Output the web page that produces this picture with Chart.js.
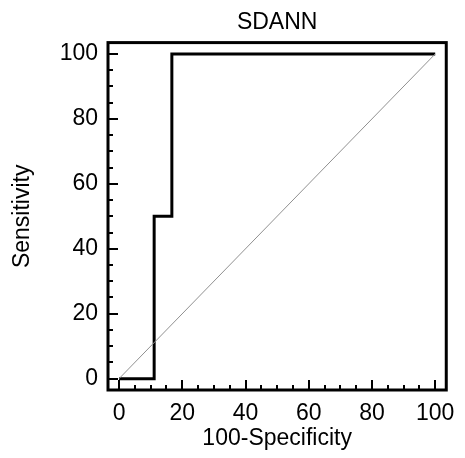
<!DOCTYPE html>
<html>
<head>
<meta charset="utf-8">
<script src="https://cdn.jsdelivr.net/npm/chart.js@4"></script>
<style>
  html, body { margin: 0; padding: 0; background: #fff; }
  #wrap { width: 465px; height: 458px; }
</style>
</head>
<body>
<div id="wrap"><canvas id="rocChart"></canvas></div>
<script>
// ROC curve points (100-Specificity, Sensitivity)
const rocX = [0, 11.1, 11.1, 16.7, 16.7, 100];
const rocY = [0, 0, 50, 50, 100, 100];
// reference diagonal
const diagX = [0, 100];
const diagY = [0, 100];
const tickValues = [0, 20, 40, 60, 80, 100];

const FONT = "'Liberation Sans', Arial, sans-serif";

// box around the plot with inward ticks
const framePlugin = {
  id: 'frame',
  afterDatasetsDraw(chart) {
    const ctx = chart.ctx;
    const a = chart.chartArea;
    const xs = chart.scales.x, ys = chart.scales.y;
    ctx.save();
    ctx.strokeStyle = '#000';
    ctx.lineWidth = 2;
    for (let v = 0; v <= 100; v += 5) {
      const len = v % 20 === 0 ? 10 : 5;
      const px = Math.round(xs.getPixelForValue(v));
      ctx.beginPath();
      ctx.moveTo(px, a.bottom);
      ctx.lineTo(px, a.bottom - len);
      ctx.stroke();
      const py = Math.round(ys.getPixelForValue(v));
      ctx.beginPath();
      ctx.moveTo(a.left, py);
      ctx.lineTo(a.left + len, py);
      ctx.stroke();
    }
    ctx.lineWidth = 3;
    ctx.strokeRect(a.left, a.top, a.right - a.left, a.bottom - a.top);
    ctx.restore();
  }
};

const ctx = document.getElementById('rocChart').getContext('2d');
new Chart(ctx, {
  type: 'scatter',
  data: {
    datasets: [
      {
        label: 'Diagonal',
        data: diagX.map((x, i) => ({ x: x, y: diagY[i] })),
        showLine: true,
        borderColor: '#909090',
        borderWidth: 1,
        pointRadius: 0
      },
      {
        label: 'SDANN',
        data: rocX.map((x, i) => ({ x: x, y: rocY[i] })),
        showLine: true,
        borderColor: '#000',
        borderWidth: 3,
        pointRadius: 0,
        borderJoinStyle: 'miter'
      }
    ]
  },
  plugins: [framePlugin],
  options: {
    responsive: true,
    maintainAspectRatio: false,
    animation: false,
    layout: { padding: { top: 0, right: 10, bottom: 0, left: 0 } },
    plugins: {
      legend: { display: false },
      tooltip: { enabled: false },
      title: {
        display: true,
        fullSize: false,
        text: 'SDANN',
        color: '#000',
        font: { family: FONT, size: 23, weight: 'normal' },
        padding: { top: 9, bottom: 6 }
      }
    },
    scales: {
      x: {
        type: 'linear',
        min: -3.5,
        max: 103.5,
        afterBuildTicks: (s) => { s.ticks = tickValues.map(v => ({ value: v })); },
        afterFit: (s) => { s.height = 68; },
        grid: { display: false, drawTicks: false },
        border: { display: false },
        ticks: {
          color: '#000',
          padding: 10,
          font: { family: FONT, size: 23 }
        },
        title: {
          display: true,
          text: '100-Specificity',
          color: '#000',
          font: { family: FONT, size: 23 },
          padding: { top: 0, bottom: 6 }
        }
      },
      y: {
        type: 'linear',
        min: -3.5,
        max: 103.5,
        afterBuildTicks: (s) => { s.ticks = tickValues.map(v => ({ value: v })); },
        afterFit: (s) => { s.width = 108; },
        grid: { display: false, drawTicks: false },
        border: { display: false },
        ticks: {
          color: '#000',
          padding: 10,
          font: { family: FONT, size: 23 }
        },
        title: {
          display: true,
          text: 'Sensitivity',
          color: '#000',
          font: { family: FONT, size: 23 },
          padding: { top: 9, bottom: 0 }
        }
      }
    }
  }
});
</script>
</body>
</html>
